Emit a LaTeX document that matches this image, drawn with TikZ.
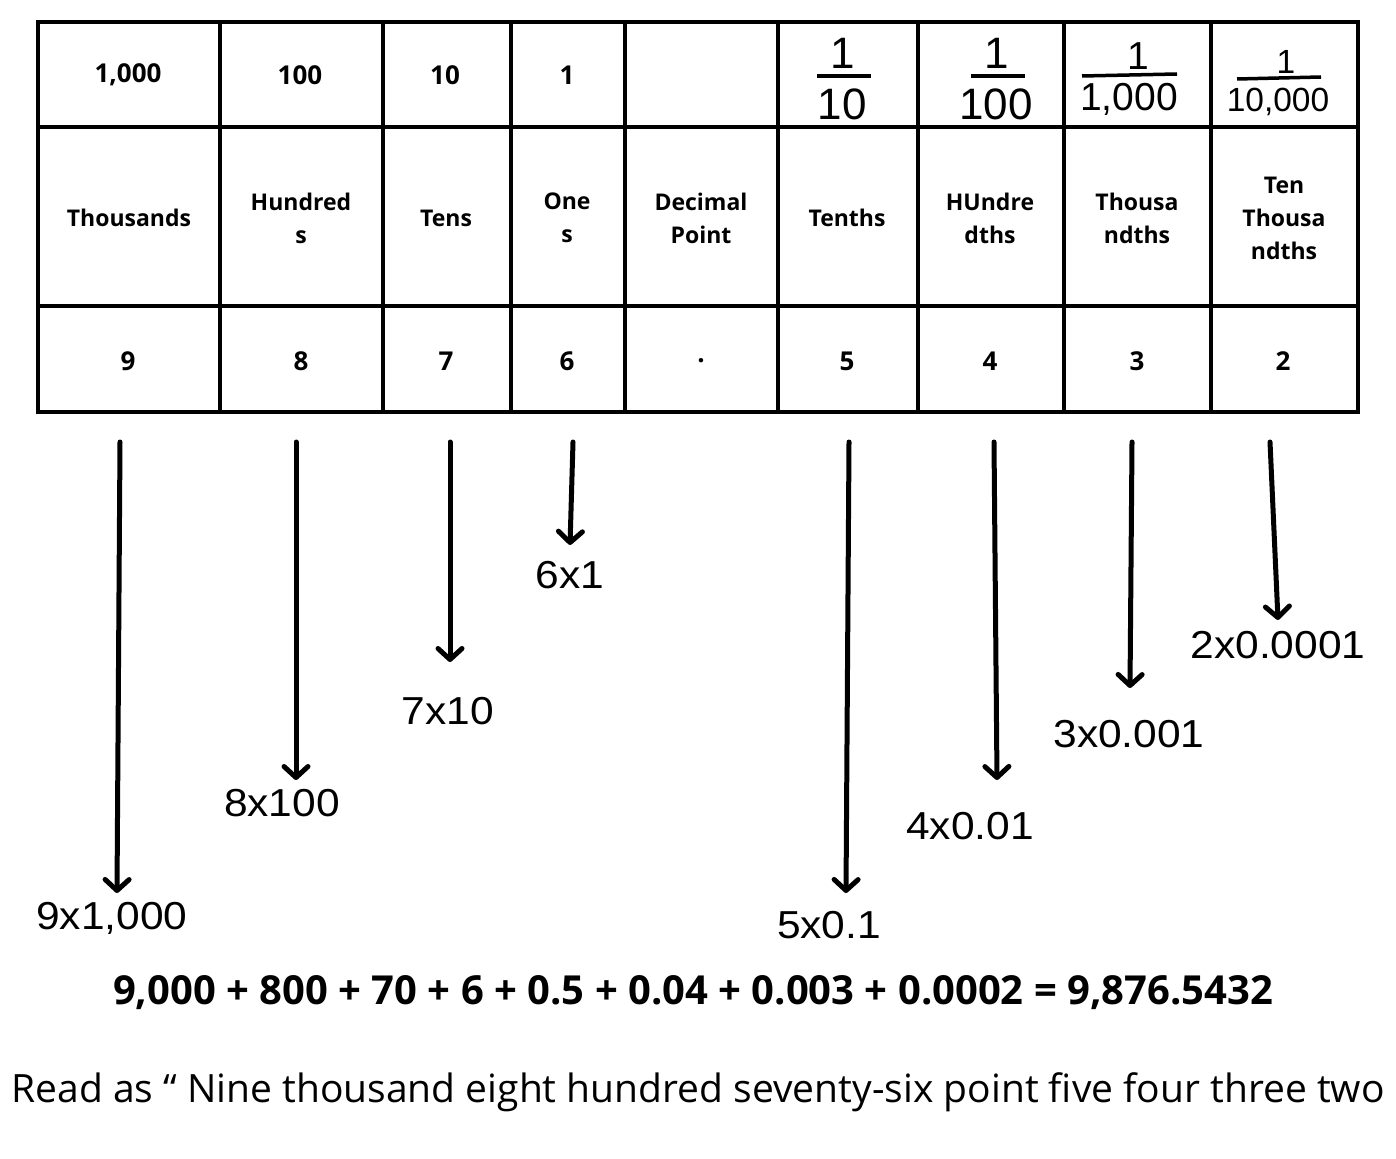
\documentclass[tikz,border=0pt]{standalone}
\usepackage{fontspec}
\setmainfont{Open Sans}
\newfontfamily\fracfont{Liberation Sans}
\newfontfamily\labfont[FakeStretch=1.09]{Liberation Sans}
\usetikzlibrary{arrows.meta}
\begin{document}
\begin{tikzpicture}[x=1pt,y=-1pt,
  grid/.style={line width=4pt,line cap=rect},
  cell/.style={font=\fontsize{23}{33}\selectfont\bfseries,align=center,inner sep=0pt},
  numcell/.style={font=\fontsize{26}{33}\selectfont\bfseries,inner sep=0pt},
  fracbig/.style={font=\fontsize{44}{44}\selectfont\fracfont,inner sep=0pt},
  fracmid/.style={font=\fontsize{39}{39}\selectfont\fracfont,inner sep=0pt},
  fracsmall/.style={font=\fontsize{33.5}{34}\selectfont\fracfont,inner sep=0pt},
  bar/.style={line width=3.5pt},
  down/.style={line width=5pt,line cap=round,-{Straight Barb[length=11pt,width=24pt,round]}},
  lab/.style={font=\fontsize{39}{42}\selectfont\labfont,inner sep=0pt},
  sumline/.style={font=\fontsize{40}{42}\selectfont\bfseries,inner sep=0pt},
  readline/.style={font=\fontsize{39}{42}\selectfont,inner sep=0pt}]

\useasboundingbox[fill=white] (0,0) rectangle (1396,1158);

% place-value table
\draw[grid] (38,22) rectangle (1358,412);
\draw[grid] (38,127) -- (1358,127);
\draw[grid] (38,306) -- (1358,306);
\foreach \cx in {220,383,511,625,778,918,1064,1211}
  \draw[grid] (\cx,22) -- (\cx,412);

% row 1: place values
\node[numcell] (v1) at (128,75) {1,000};
\node[numcell] (v2) at (300,75) {100};
\node[numcell] (v3) at (445,75) {10};
\node[numcell] (v4) at (567,75) {1};

\node[fracbig] (n5) at (843,53) {1};
\draw[bar] (817,76) -- (871,76);
\node[fracbig] (d5) at (842,104) {10};
\node[fracbig] (n6) at (997,53) {1};
\draw[bar] (971,76) -- (1025,76);
\node[fracbig] (d6) at (996,104) {100};
\node[fracmid] (n7) at (1138,56) {1};
\draw[bar] (1082,76) -- (1177,74);
\node[fracmid] (d7) at (1129,99) {1,000};
\node[fracsmall] (n8) at (1286,62) {1};
\draw[bar] (1237,79) -- (1321,77);
\node[fracsmall] (d8) at (1278,102) {10,000};

% row 2: place names
\node[cell] (p1) at (129,218) {Thousands};
\node[cell] (p2) at (301,218) {Hundred\\s};
\node[cell] (p3) at (446,218) {Tens};
\node[cell] (p4) at (567,218) {One\\s};
\node[cell] (p5) at (701,218) {Decimal\\Point};
\node[cell] (p6) at (847,218) {Tenths};
\node[cell] (p7) at (990,218) {HUndre\\dths};
\node[cell] (p8) at (1137,218) {Thousa\\ndths};
\node[cell] (p9) at (1284,218) {Ten\\Thousa\\ndths};

% row 3: digits
\node[numcell] (g1) at (128,361) {9};
\node[numcell] (g2) at (301,361) {8};
\node[numcell] (g3) at (446,361) {7};
\node[numcell] (g4) at (567,361) {6};
\node[numcell] (g5) at (701,361) {.};
\node[numcell] (g6) at (847,361) {5};
\node[numcell] (g7) at (990,361) {4};
\node[numcell] (g8) at (1137,361) {3};
\node[numcell] (g9) at (1283,361) {2};

% expanded products
\node[lab] (e1) at (112,918) {9x1,000};
\node[lab] (e2) at (282,803) {8x100};
\node[lab] (e3) at (448,711) {7x10};
\node[lab] (e4) at (570,575) {6x1};
\node[lab] (e6) at (829,925) {5x0.1};
\node[lab] (e7) at (970,826) {4x0.01};
\node[lab] (e8) at (1129,734) {3x0.001};
\node[lab] (e9) at (1278,645) {2x0.0001};

% arrows from each digit column down to its product
\coordinate (s1) at (120,442); \coordinate (t1) at (117,893);
\coordinate (s2) at (296,442); \coordinate (t2) at (296,780);
\coordinate (s3) at (450,442); \coordinate (t3) at (450,662);
\coordinate (s4) at (573,442); \coordinate (t4) at (570,545);
\coordinate (s6) at (849,442); \coordinate (t6) at (846,893);
\coordinate (s7) at (994,442); \coordinate (t7) at (997,780);
\coordinate (s8) at (1132,442); \coordinate (t8) at (1130,688);
\coordinate (s9) at (1270,442); \coordinate (t9) at (1278,620);
\foreach \k in {1,2,3,4,6,7,8,9}
  \draw[down] (s\k) -- (t\k);

% sum and reading
\node[sumline] (sum) at (693,993) {9,000 + 800 + 70 + 6 + 0.5 + 0.04 + 0.003 + 0.0002 = 9,876.5432};
\node[readline] (read) at (698,1092) {Read as \char"201C{} Nine thousand eight hundred seventy-six point five four three two};
\end{tikzpicture}
\end{document}
